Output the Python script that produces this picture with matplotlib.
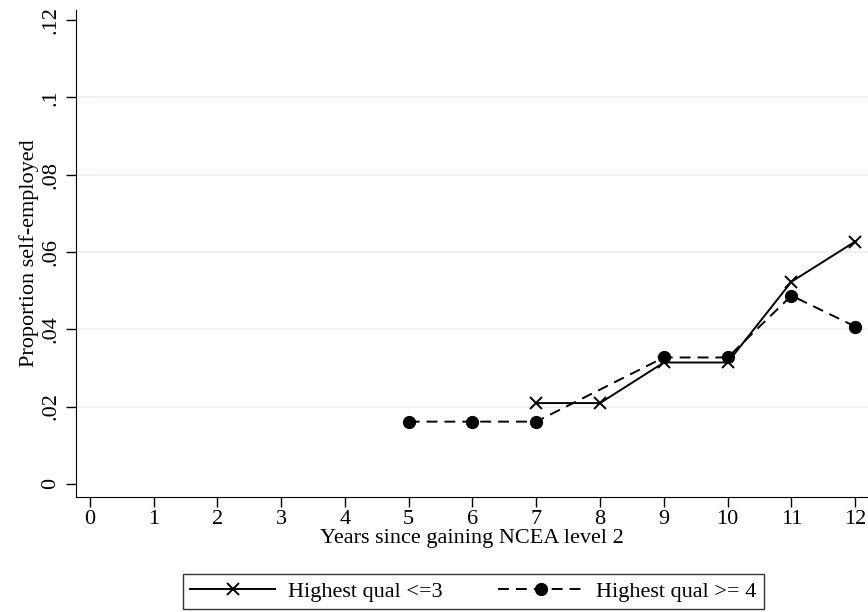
import matplotlib.pyplot as plt

plt.rcParams["font.family"] = ["Liberation Serif", "DejaVu Serif"]

# data
years_low = [7, 8, 9, 10, 11, 12]
prop_low = [0.0209, 0.0209, 0.0314, 0.0314, 0.0523, 0.0627]
years_high = [5, 6, 7, 9, 10, 11, 12]
prop_high = [0.0161, 0.0161, 0.0161, 0.0327, 0.0327, 0.0487, 0.0407]
x_ticks = list(range(0, 13))
y_ticks = [0, 0.02, 0.04, 0.06, 0.08, 0.10, 0.12]
y_labels = ["0", ".02", ".04", ".06", ".08", ".1", ".12"]

fs = 16

fig = plt.figure(figsize=(8.68, 6.12), dpi=100)
ax = fig.add_axes([0.0872, 0.1879, 0.9128, 0.7958])

# light horizontal grid
for y in y_ticks[1:-1]:
    ax.axhline(y, color="#eaf2f3", linewidth=1.4, zorder=0)

ax.plot(years_low, prop_low, color="black", linewidth=1.4, marker="x",
        markersize=8, markeredgewidth=1.4, label="Highest qual <=3", zorder=3)
ax.plot(years_high, prop_high, color="black", linewidth=1.4, marker="o",
        markersize=8.5, dashes=(5.6, 3.6), label="Highest qual >= 4", zorder=3)

ax.set_xlim(-0.22, 12.2)
ax.set_ylim(-0.0034, 0.1226)
ax.set_xticks(x_ticks)
ax.set_yticks(y_ticks)
ax.set_yticklabels(y_labels, rotation=90, va="center")
ax.tick_params(axis="both", labelsize=fs, length=7, width=1, direction="out")
ax.tick_params(axis="x", pad=2)
ax.tick_params(axis="y", pad=4)
ax.spines["top"].set_visible(False)
ax.spines["right"].set_visible(False)
ax.set_xlabel("Years since gaining NCEA level 2", fontsize=fs, labelpad=0)
ax.set_ylabel("Proportion self-employed", fontsize=fs, labelpad=2)

leg = fig.legend(loc="center", bbox_to_anchor=(0.5455, 0.0335), ncol=2,
                 fontsize=fs, handlelength=3.8, handletextpad=0.6,
                 frameon=True, fancybox=False, edgecolor="black",
                 columnspacing=2.5, borderpad=0.33)
leg.get_frame().set_linewidth(1)

fig.savefig("out.png", dpi=100)
